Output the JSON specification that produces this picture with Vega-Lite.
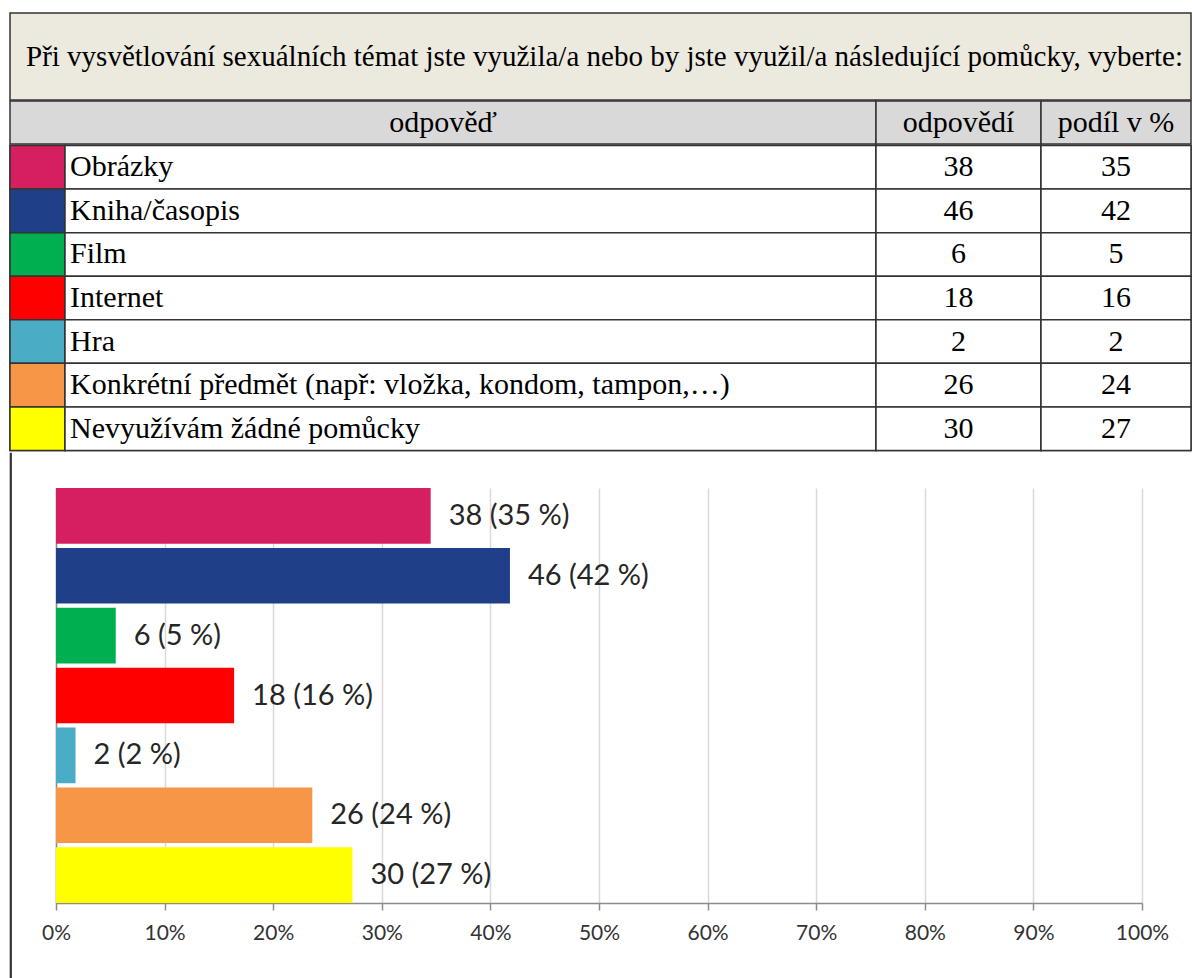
{
  "$schema": "https://vega.github.io/schema/vega-lite/v6.json",
  "padding": {"left": 8, "top": 12, "right": 0, "bottom": 0},
  "background": "white",
  "datasets": {
    "pomucky": [
      {"odpoved": "Obrázky", "odpovedi": 38, "podil": 35, "delka": 0.345, "popisek": "38 (35 %)"},
      {"odpoved": "Kniha/časopis", "odpovedi": 46, "podil": 42, "delka": 0.418, "popisek": "46 (42 %)"},
      {"odpoved": "Film", "odpovedi": 6, "podil": 5, "delka": 0.055, "popisek": "6 (5 %)"},
      {"odpoved": "Internet", "odpovedi": 18, "podil": 16, "delka": 0.164, "popisek": "18 (16 %)"},
      {"odpoved": "Hra", "odpovedi": 2, "podil": 2, "delka": 0.018, "popisek": "2 (2 %)"},
      {"odpoved": "Konkrétní předmět (např: vložka, kondom, tampon,…)", "odpovedi": 26, "podil": 24, "delka": 0.236, "popisek": "26 (24 %)"},
      {"odpoved": "Nevyužívám žádné pomůcky", "odpovedi": 30, "podil": 27, "delka": 0.273, "popisek": "30 (27 %)"}
    ]
  },
  "config": {
    "view": {"stroke": "#333333", "strokeWidth": 1.5},
    "text": {"color": "#000000"}
  },
  "spacing": -1.5,
  "bounds": "full",
  "vconcat": [
    {
      "width": 1181,
      "height": 87,
      "data": {"values": [{"otazka": "Při vysvětlování sexuálních témat jste využila/a nebo by jste využil/a následující pomůcky, vyberte:"}]},
      "view": {"fill": "#ECE9DF", "stroke": "#333333", "strokeWidth": 1.5},
      "mark": {"type": "text", "align": "left", "dx": 16, "font": "Liberation Serif", "fontSize": 29, "color": "#000000"},
      "encoding": {
        "x": {"datum": 0, "type": "quantitative", "scale": {"domain": [0, 1]}, "axis": null},
        "text": {"field": "otazka"}
      }
    },
    {
      "spacing": 0,
      "bounds": "flush",
      "hconcat": [
        {
          "width": 866, "height": 43,
          "data": {"values": [{"sloupec": "odpověď"}]},
          "view": {"fill": "#D9D9D9", "stroke": "#333333", "strokeWidth": 1.5},
          "mark": {"type": "text", "font": "Liberation Serif", "fontSize": 30, "color": "#000000"},
          "encoding": {"text": {"field": "sloupec"}}
        },
        {
          "width": 165, "height": 43,
          "data": {"values": [{"sloupec": "odpovědí"}]},
          "view": {"fill": "#D9D9D9", "stroke": "#333333", "strokeWidth": 1.5},
          "mark": {"type": "text", "font": "Liberation Serif", "fontSize": 30, "color": "#000000"},
          "encoding": {"text": {"field": "sloupec"}}
        },
        {
          "width": 150, "height": 43,
          "data": {"values": [{"sloupec": "podíl v %"}]},
          "view": {"fill": "#D9D9D9", "stroke": "#333333", "strokeWidth": 1.5},
          "mark": {"type": "text", "font": "Liberation Serif", "fontSize": 30, "color": "#000000"},
          "encoding": {"text": {"field": "sloupec"}}
        }
      ]
    },
    {
      "spacing": 0,
      "bounds": "flush",
      "hconcat": [
        {
          "width": 55, "height": 305,
          "data": {"name": "pomucky"},
          "mark": {"type": "rect", "stroke": "#333333", "strokeWidth": 1.5},
          "encoding": {
            "y": {"field": "odpoved", "type": "nominal", "sort": null, "scale": {"paddingInner": 0, "paddingOuter": 0}, "axis": null},
            "color": {
              "field": "odpoved", "type": "nominal", "legend": null,
              "scale": {
                "domain": ["Obrázky", "Kniha/časopis", "Film", "Internet", "Hra", "Konkrétní předmět (např: vložka, kondom, tampon,…)", "Nevyužívám žádné pomůcky"],
                "range": ["#D61F60", "#1F3F88", "#00B050", "#FF0000", "#4BACC6", "#F79646", "#FFFF00"]
              }
            }
          }
        },
        {
          "width": 811, "height": 305,
          "data": {"name": "pomucky"},
          "encoding": {
            "y": {"field": "odpoved", "type": "nominal", "sort": null, "scale": {"paddingInner": 0, "paddingOuter": 0}, "axis": null}
          },
          "layer": [
            {
              "mark": {"type": "rect", "fill": "#FFFFFF", "stroke": "#333333", "strokeWidth": 1.5},
              "encoding": {
                "x": {"datum": 0, "type": "quantitative", "scale": {"domain": [0, 1]}, "axis": null},
                "x2": {"datum": 1}
              }
            },
            {
              "mark": {"type": "text", "align": "left", "dx": 5, "font": "Liberation Serif", "fontSize": 30, "color": "#000000"},
              "encoding": {
                "x": {"datum": 0, "type": "quantitative", "axis": null},
                "text": {"field": "odpoved"}
              }
            }
          ]
        },
        {
          "width": 165, "height": 305,
          "data": {"name": "pomucky"},
          "encoding": {
            "y": {"field": "odpoved", "type": "nominal", "sort": null, "scale": {"paddingInner": 0, "paddingOuter": 0}, "axis": null}
          },
          "layer": [
            {"mark": {"type": "rect", "fill": "#FFFFFF", "stroke": "#333333", "strokeWidth": 1.5}},
            {
              "mark": {"type": "text", "font": "Liberation Serif", "fontSize": 30, "color": "#000000"},
              "encoding": {"text": {"field": "odpovedi"}}
            }
          ]
        },
        {
          "width": 150, "height": 305,
          "data": {"name": "pomucky"},
          "encoding": {
            "y": {"field": "odpoved", "type": "nominal", "sort": null, "scale": {"paddingInner": 0, "paddingOuter": 0}, "axis": null}
          },
          "layer": [
            {"mark": {"type": "rect", "fill": "#FFFFFF", "stroke": "#333333", "strokeWidth": 1.5}},
            {
              "mark": {"type": "text", "font": "Liberation Serif", "fontSize": 30, "color": "#000000"},
              "encoding": {"text": {"field": "podil"}}
            }
          ]
        }
      ]
    },
    {
      "spacing": 45,
      "bounds": "flush",
      "hconcat": [
        {
          "width": 1, "height": 526,
          "data": {"values": [{}]},
          "view": {"stroke": "#333333", "strokeWidth": 1.2},
          "mark": {"type": "rule"},
          "encoding": {}
        },
        {
          "spacing": 34,
          "bounds": "flush",
          "vconcat": [
            {
              "width": 1, "height": 1,
              "data": {"values": [{}]},
              "view": {"stroke": null},
              "mark": {"type": "rule"},
              "encoding": {}
            },
            {
              "width": 1086, "height": 415,
              "data": {"name": "pomucky"},
              "view": {"stroke": null},
              "encoding": {
                "y": {
                  "field": "odpoved", "type": "nominal", "sort": null,
                  "scale": {"paddingInner": 0.07, "paddingOuter": 0},
                  "axis": {"title": null, "labels": false, "ticks": false, "grid": false, "domainColor": "#8C8C8C", "domainWidth": 1.5}
                },
                "x": {
                  "field": "delka", "type": "quantitative",
                  "scale": {"domain": [0, 1], "nice": false},
                  "axis": {
                    "title": null, "format": ".0%",
                    "values": [0, 0.1, 0.2, 0.3, 0.4, 0.5, 0.6, 0.7, 0.8, 0.9, 1],
                    "grid": true, "gridColor": "#D9D9D9", "gridWidth": 1.5,
                    "domainColor": "#8C8C8C", "domainWidth": 1.5,
                    "tickColor": "#8C8C8C", "tickSize": 7, "tickWidth": 1.5,
                    "labelFont": "Lato", "labelFontSize": 21, "labelColor": "#333333",
                    "labelPadding": 12, "labelFlush": false
                  }
                }
              },
              "layer": [
                {
                  "mark": {"type": "bar"},
                  "encoding": {
                    "color": {
                      "field": "odpoved", "type": "nominal", "legend": null,
                      "scale": {
                        "domain": ["Obrázky", "Kniha/časopis", "Film", "Internet", "Hra", "Konkrétní předmět (např: vložka, kondom, tampon,…)", "Nevyužívám žádné pomůcky"],
                        "range": ["#D61F60", "#1F3F88", "#00B050", "#FF0000", "#4BACC6", "#F79646", "#FFFF00"]
                      }
                    }
                  }
                },
                {
                  "mark": {"type": "text", "align": "left", "dx": 18, "font": "Lato", "fontSize": 29, "color": "#262626"},
                  "encoding": {"text": {"field": "popisek"}}
                }
              ]
            }
          ]
        }
      ]
    }
  ]
}
